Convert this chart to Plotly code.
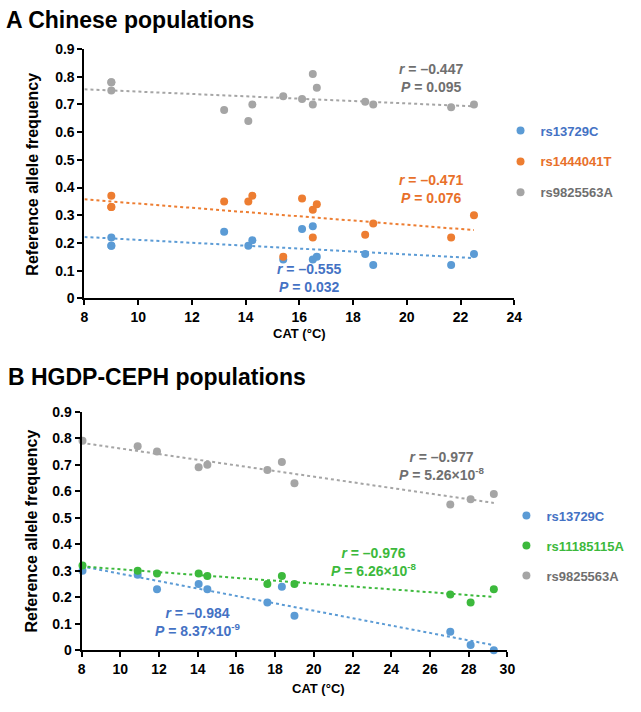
import numpy as np
import plotly.graph_objects as go

# ---------------- data ----------------
# Panel A: Chinese populations (n = 15; two populations share CAT = 9.0 with overlapping points)
cat_a = [9.0, 9.0, 9.0, 13.2, 14.1, 14.25, 15.4, 16.1, 16.5, 16.5, 16.65, 18.45, 18.75, 21.65, 22.5]
a_rs13729C = [0.22, 0.19, 0.19, 0.24, 0.19, 0.21, 0.14, 0.25, 0.26, 0.14, 0.15, 0.16, 0.12, 0.12, 0.16]
a_rs1444041T = [0.37, 0.33, 0.33, 0.35, 0.35, 0.37, 0.15, 0.36, 0.32, 0.22, 0.34, 0.23, 0.27, 0.22, 0.30]
a_rs9825563A = [0.78, 0.75, 0.78, 0.68, 0.64, 0.70, 0.73, 0.72, 0.81, 0.70, 0.76, 0.71, 0.70, 0.69, 0.70]

# Panel B: HGDP-CEPH populations
cat_b = [8.05, 10.9, 11.9, 14.05, 14.5, 17.6, 18.35, 19.0, 27.05, 28.1, 29.3]
b_rs13729C = [0.30, 0.285, 0.23, 0.25, 0.23, 0.18, 0.24, 0.13, 0.07, 0.02, 0.0]
b_rs11185115A = [0.32, 0.30, 0.29, 0.29, 0.28, 0.25, 0.28, 0.25, 0.21, 0.18, 0.23]
b_rs9825563A = [0.79, 0.77, 0.75, 0.69, 0.70, 0.68, 0.71, 0.63, 0.55, 0.57, 0.59]

stats_a = {"rs13729C": ("–0.555", "0.032"),
           "rs1444041T": ("–0.471", "0.076"),
           "rs9825563A": ("–0.447", "0.095")}
stats_b = {"rs13729C": ("–0.984", "8.37×10<sup>-9</sup>"),
           "rs11185115A": ("–0.976", "6.26×10<sup>-8</sup>"),
           "rs9825563A": ("–0.977", "5.26×10<sup>-8</sup>")}

# ---------------- style ----------------
W, H = 641, 712
FONT = "Arial, Liberation Sans, sans-serif"
BLUE_M, BLUE_T = "#5b9bd5", "#4472c4"
ORANGE_M, ORANGE_T = "#ed7d31", "#e8702a"
GREY_M, GREY_T = "#a5a5a5", "#6f6f6f"
GREEN_M, GREEN_T = "#3cb93c", "#3cb93c"

def px(v, total):
    return v / total

fig = go.Figure()

def add_series(xs, ys, name, mcol, tcol, xa, ya, legend):
    xs = np.array(xs, dtype=float)
    ys = np.array(ys, dtype=float)
    k, b = np.polyfit(xs, ys, 1)
    lx = np.array([8.0, xs.max()])
    fig.add_trace(go.Scatter(x=lx, y=k * lx + b, mode="lines",
                             line=dict(color=mcol, width=2, dash="dot"),
                             xaxis=xa, yaxis=ya, showlegend=False,
                             hoverinfo="skip", cliponaxis=False))
    fig.add_trace(go.Scatter(x=xs, y=ys, mode="markers",
                             marker=dict(color=mcol, size=8),
                             name=f"<span style='color:{tcol}'>{name}</span>",
                             legendgroup=name + legend, legend=legend,
                             xaxis=xa, yaxis=ya, cliponaxis=False))

add_series(cat_a, a_rs13729C, "rs13729C", BLUE_M, BLUE_T, "x", "y", "legend")
add_series(cat_a, a_rs1444041T, "rs1444041T", ORANGE_M, ORANGE_T, "x", "y", "legend")
add_series(cat_a, a_rs9825563A, "rs9825563A", GREY_M, GREY_T, "x", "y", "legend")

add_series(cat_b, b_rs13729C, "rs13729C", BLUE_M, BLUE_T, "x2", "y2", "legend2")
add_series(cat_b, b_rs11185115A, "rs11185115A", GREEN_M, GREEN_T, "x2", "y2", "legend2")
add_series(cat_b, b_rs9825563A, "rs9825563A", GREY_M, GREY_T, "x2", "y2", "legend2")

axis_common = dict(showline=True, linecolor="black", linewidth=2, ticks="outside",
                   ticklen=5, tickwidth=2, tickcolor="black", showgrid=False,
                   zeroline=False,
                   tickfont=dict(family=FONT, size=14, color="black", weight="bold"))

fig.update_layout(
    width=W, height=H, margin=dict(l=0, r=0, t=0, b=0),
    paper_bgcolor="white", plot_bgcolor="white",
    font=dict(family=FONT),
    xaxis=dict(domain=[px(82, W), px(520, W)], range=[8, 24], dtick=2, anchor="y", **axis_common),
    yaxis=dict(domain=[px(H - 297, H), px(H - 42, H)], range=[0, 0.9], dtick=0.1, anchor="x", **axis_common),
    xaxis2=dict(domain=[px(79, W), px(513, W)], range=[8, 30], dtick=2, anchor="y2", **axis_common),
    yaxis2=dict(domain=[px(H - 657, H), px(H - 413, H)], range=[0, 0.9], dtick=0.1, anchor="x2", **axis_common),
    legend=dict(x=px(506, W), y=px(H - 110, H), xanchor="left", yanchor="top",
                font=dict(family=FONT, size=13, weight="bold"), tracegroupgap=11,
                bgcolor="rgba(0,0,0,0)", itemwidth=30),
    legend2=dict(x=px(512, W), y=px(H - 504, H), xanchor="left", yanchor="top",
                 font=dict(family=FONT, size=13, weight="bold"), tracegroupgap=10,
                 bgcolor="rgba(0,0,0,0)", itemwidth=30),
)

ann = []
def text_ann(x, y, text, size, color, xref="paper", yref="paper", angle=0, xanchor="center"):
    ann.append(dict(x=x, y=y, xref=xref, yref=yref, text=text, showarrow=False,
                    textangle=angle, xanchor=xanchor, yanchor="middle",
                    font=dict(family=FONT, size=size, color=color, weight="bold")))

# Panel titles
text_ann(px(0, W), px(H - 12, H), "A Chinese populations", 23, "black", xanchor="left")
text_ann(px(2, W), px(H - 377, H), "B HGDP-CEPH populations", 23, "black", xanchor="left")
# Axis titles
text_ann(px(29, W), px(H - 170, H), "Reference allele frequency", 16, "black", angle=-90)
text_ann(px(29, W), px(H - 535, H), "Reference allele frequency", 16, "black", angle=-90)
text_ann(px(301, W), px(H - 333, H), "CAT (°C)", 13, "black")
text_ann(px(320, W), px(H - 696, H), "CAT (°C)", 13, "black")

def stat_text(r, p):
    return f"<i>r</i> = {r}<br><i>P</i> = {p}"

# Panel A stats
text_ann(20.9, 0.794, stat_text(*stats_a["rs9825563A"]), 14, GREY_T, "x", "y")
text_ann(20.9, 0.396, stat_text(*stats_a["rs1444041T"]), 14, ORANGE_T, "x", "y")
text_ann(16.36, 0.072, stat_text(*stats_a["rs13729C"]), 14, BLUE_T, "x", "y")
# Panel B stats
text_ann(26.6, 0.695, stat_text(*stats_b["rs9825563A"]), 14, GREY_T, "x2", "y2")
text_ann(23.1, 0.332, stat_text(*stats_b["rs11185115A"]), 14, GREEN_T, "x2", "y2")
text_ann(14.0, 0.108, stat_text(*stats_b["rs13729C"]), 14, BLUE_T, "x2", "y2")

fig.update_layout(annotations=ann)
fig.write_html("out.html", config={"displayModeBar": False},
               post_script="document.body.style.margin='0';document.body.style.padding='0';")
